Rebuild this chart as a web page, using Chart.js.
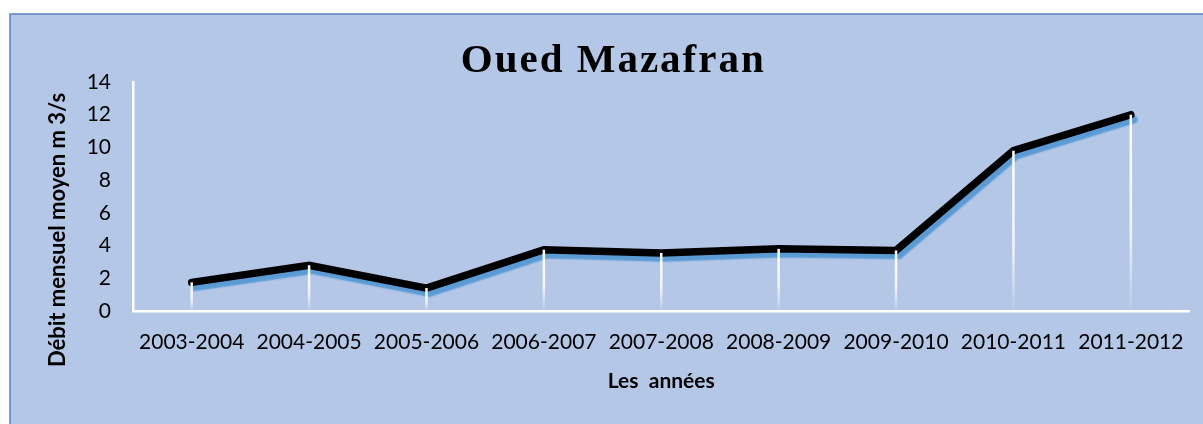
<!DOCTYPE html>
<html>
<head>
<meta charset="utf-8">
<script src="https://cdn.jsdelivr.net/npm/chart.js@4.4.1/dist/chart.umd.min.js"></script>
<style>
  html, body { margin: 0; padding: 0; background: #fff; }
  .wrap { width: 1203px; height: 424px; position: relative; }
</style>
</head>
<body>
<div class="wrap"><canvas id="chart"></canvas></div>
<script>
const years = ['2003-2004', '2004-2005', '2005-2006', '2006-2007', '2007-2008',
               '2008-2009', '2009-2010', '2010-2011', '2011-2012'];
const debit = [1.75, 2.8, 1.4, 3.75, 3.55, 3.8, 3.7, 9.8, 12.0];
const yMin = 0;
const yMax = 14;
const yStep = 2;
const chartTitle = 'Oued Mazafran';
const yTitle = 'Débit mensuel moyen m 3/s';
const xTitle = 'Les  années';

// fond bleu + bordure du cadre
const frame = {
  id: 'frame',
  beforeDraw(chart) {
    const { ctx, width, height } = chart;
    ctx.save();
    ctx.fillStyle = '#ffffff';
    ctx.fillRect(0, 0, width, height);
    ctx.fillStyle = '#b4c7e7';
    ctx.fillRect(10, 14, width - 10, height - 14);
    ctx.strokeStyle = '#5b83cc';
    ctx.lineWidth = 1.5;
    ctx.beginPath();
    ctx.moveTo(10, height);
    ctx.lineTo(10, 14);
    ctx.lineTo(width, 14);
    ctx.stroke();
    ctx.restore();
  }
};

// ombre bleue sous la courbe
const shadow = {
  id: 'shadow',
  beforeDatasetDraw(chart) {
    const ctx = chart.ctx;
    ctx.save();
    ctx.shadowColor = '#5b9bd5';
    ctx.shadowOffsetX = 3;
    ctx.shadowOffsetY = 5;
    ctx.shadowBlur = 1.5;
  },
  afterDatasetDraw(chart) {
    chart.ctx.restore();
  }
};

// lignes de rappel blanches, titre (espacé) et titre de l'axe y
const extras = {
  id: 'extras',
  afterDatasetsDraw(chart) {
    const { ctx, scales } = chart;
    const base = scales.y.getPixelForValue(yMin);
    const meta = chart.getDatasetMeta(0);
    ctx.save();
    ctx.lineWidth = 2.5;
    meta.data.forEach(pt => {
      const g = ctx.createLinearGradient(0, pt.y, 0, base);
      g.addColorStop(0, 'rgba(255,255,255,1)');
      g.addColorStop(0.6, 'rgba(255,255,255,0.8)');
      g.addColorStop(1, 'rgba(255,255,255,0.05)');
      ctx.strokeStyle = g;
      ctx.beginPath();
      ctx.moveTo(pt.x, pt.y);
      ctx.lineTo(pt.x, base);
      ctx.stroke();
    });
    ctx.restore();
  },
  afterDraw(chart) {
    const { ctx, chartArea } = chart;
    ctx.save();
    ctx.fillStyle = '#000';
    ctx.textAlign = 'center';
    ctx.textBaseline = 'alphabetic';
    ctx.font = 'bold 41px "Liberation Serif"';
    ctx.letterSpacing = '2px';
    ctx.fillText(chartTitle, (chartArea.left + chartArea.right) / 2 - 48, 72);
    ctx.letterSpacing = '0px';
    ctx.translate(58, 230);
    ctx.rotate(-Math.PI / 2);
    ctx.textBaseline = 'middle';
    ctx.font = 'bold 22px Lato';
    ctx.fillText(yTitle, 0, 0);
    ctx.restore();
  }
};

const ctx = document.getElementById('chart').getContext('2d');
new Chart(ctx, {
  type: 'line',
  data: {
    labels: years,
    datasets: [{
      data: debit,
      borderColor: '#000000',
      borderWidth: 7.5,
      borderCapStyle: 'round',
      borderJoinStyle: 'miter',
      pointRadius: 0,
      tension: 0,
      fill: false
    }]
  },
  options: {
    responsive: true,
    maintainAspectRatio: false,
    animation: false,
    layout: { padding: { top: 82, left: 10, right: 10, bottom: 0 } },
    plugins: {
      legend: { display: false },
      tooltip: { enabled: false },
      title: { display: false }
    },
    scales: {
      x: {
        offset: true,
        grid: { display: false, drawTicks: false },
        border: { display: true, color: '#ffffff', width: 2.5 },
        ticks: { color: '#000', font: { family: 'Lato', size: 21 }, padding: 19, maxRotation: 0 },
        title: {
          display: true,
          text: xTitle,
          color: '#000',
          font: { family: 'Lato', size: 21, weight: 'bold' },
          padding: { top: 0, bottom: 30 }
        },
        afterFit(scale) { scale.height = 113; }
      },
      y: {
        min: yMin,
        max: yMax,
        ticks: { stepSize: yStep, color: '#000', font: { family: 'Lato', size: 21 }, padding: 22 },
        grid: { display: false, drawTicks: false },
        border: { display: true, color: '#ffffff', width: 2.5 },
        afterFit(scale) { scale.width = 123; }
      }
    }
  },
  plugins: [frame, shadow, extras]
});
</script>
</body>
</html>
